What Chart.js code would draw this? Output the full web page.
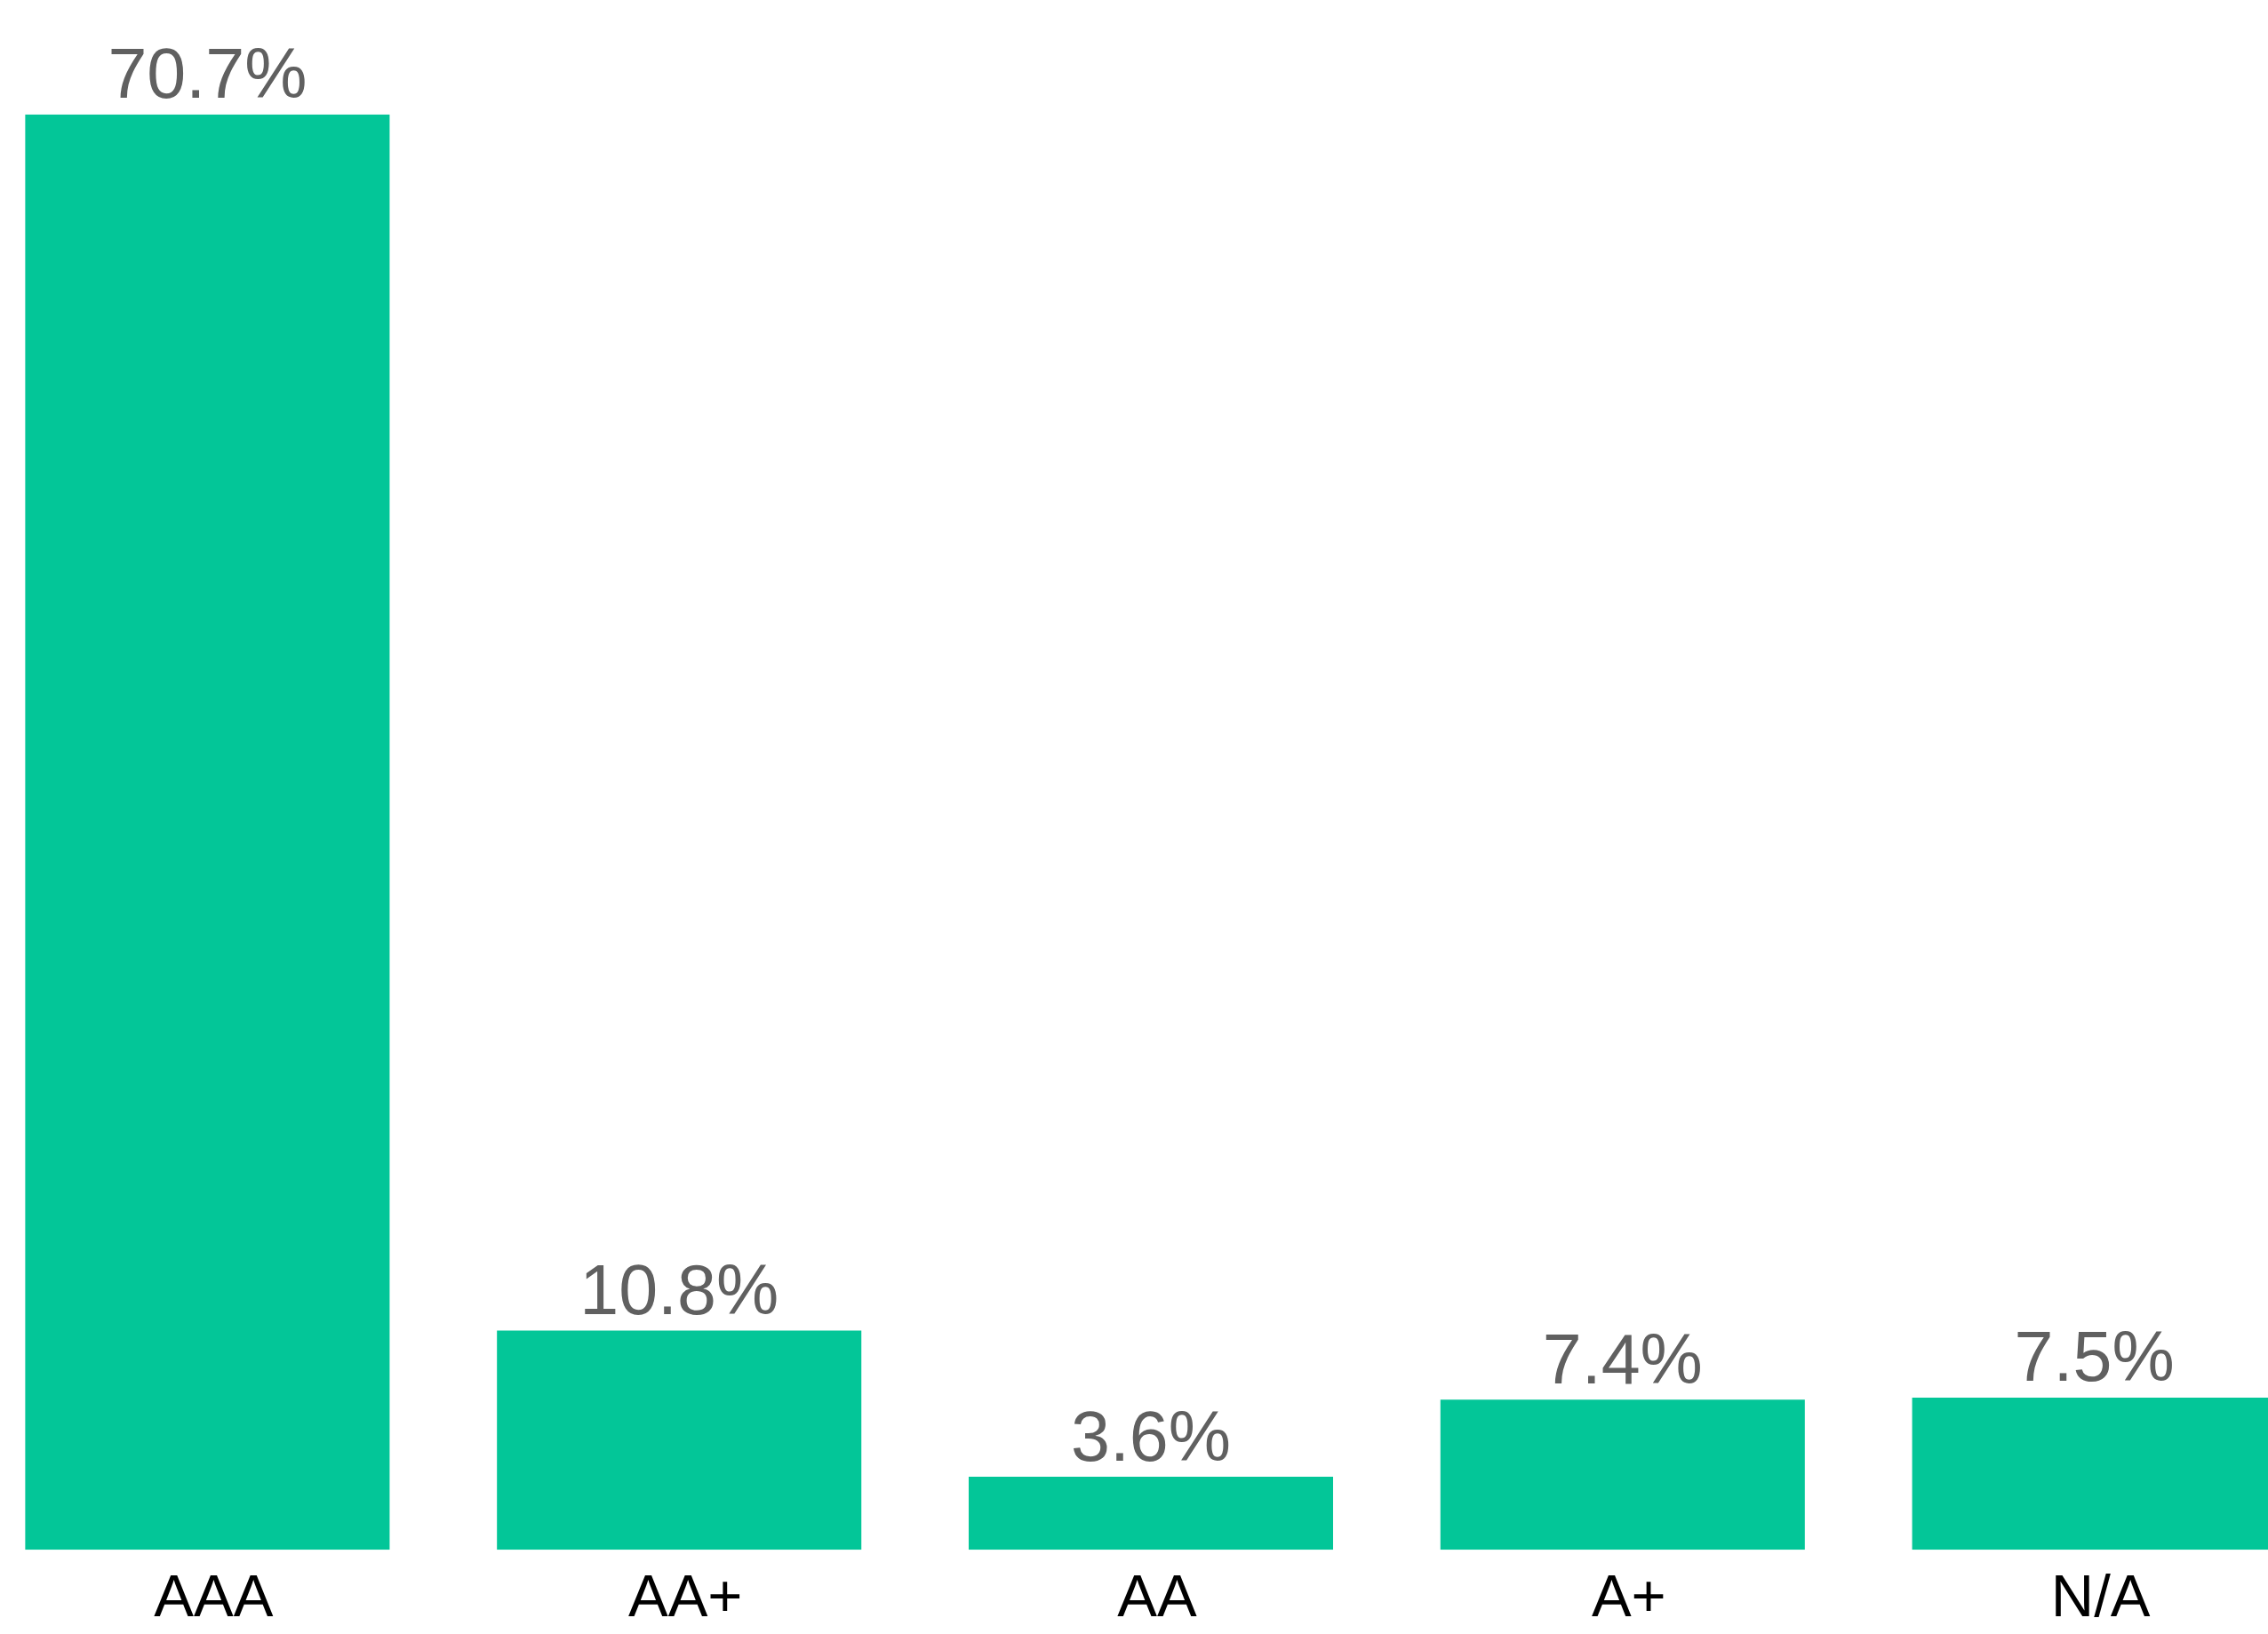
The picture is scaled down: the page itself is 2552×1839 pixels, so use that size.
<!DOCTYPE html>
<html lang="en">

<head>
    <meta charset="UTF-8">
    <meta name="viewport" content="width=device-width, initial-scale=1.0">
    <script src="https://cdn.jsdelivr.net/npm/chart.js@4.4.0/dist/chart.umd.min.js"></script>
    <title>Rating breakdown</title>
    <style>
        html,
        body {
            margin: 0;
            padding: 0;
            background: #ffffff;
            overflow: hidden;
        }

        #frame {
            position: relative;
            width: 2552px;
            height: 1839px;
            overflow: hidden;
        }

        /* plot is a bit wider than the page, so the last bar runs off the right edge */
        #wrap {
            position: absolute;
            left: -32px;
            top: 0;
            width: 2654px;
            height: 1839px;
        }
    </style>
</head>

<body>
    <div id="frame">
        <div id="wrap">
            <canvas id="ratings"></canvas>
        </div>
    </div>
</body>

<script>
    const ratings = ['AAA', 'AA+', 'AA', 'A+', 'N/A'];
    const shares = [70.7, 10.8, 3.6, 7.4, 7.5];

    const barColor = '#03C698';
    const valueColor = '#606060';
    const fontFamily = "'Liberation Sans', Arial, Helvetica, sans-serif";

    // percentage text above each bar
    const valueLabels = {
        id: 'valueLabels',
        afterDatasetsDraw(chart) {
            let ctx = chart.ctx;
            let meta = chart.getDatasetMeta(0);
            ctx.save();
            ctx.font = '79px ' + fontFamily;
            ctx.fillStyle = valueColor;
            ctx.textAlign = 'center';
            ctx.textBaseline = 'alphabetic';
            meta.data.forEach(function (bar, i) {
                ctx.fillText(shares[i].toFixed(1) + '%', bar.x, bar.y - 18.5);
            });
            ctx.restore();
        }
    };

    let ctx = document.getElementById('ratings').getContext('2d');
    let chart = new Chart(ctx, {
        type: 'bar',
        data: {
            labels: ratings,
            datasets: [{
                data: shares,
                backgroundColor: barColor,
                borderWidth: 0,
                barPercentage: 1,
                categoryPercentage: 0.7725
            }]
        },
        options: {
            responsive: true,
            maintainAspectRatio: false,
            animation: false,
            events: [],
            layout: {
                padding: { top: 128.7, left: 0, right: 0, bottom: 0 }
            },
            plugins: {
                legend: { display: false },
                tooltip: { enabled: false }
            },
            scales: {
                x: {
                    grid: { display: false },
                    border: { display: false },
                    ticks: {
                        color: '#000000',
                        padding: 8,
                        labelOffset: 7,
                        maxRotation: 0,
                        font: { family: fontFamily, size: 67 }
                    },
                    afterFit: function (scale) {
                        scale.height = 94.7;
                    }
                },
                y: {
                    display: false,
                    min: 0,
                    max: Math.max(...shares)
                }
            }
        },
        plugins: [valueLabels]
    });
</script>

</html>
